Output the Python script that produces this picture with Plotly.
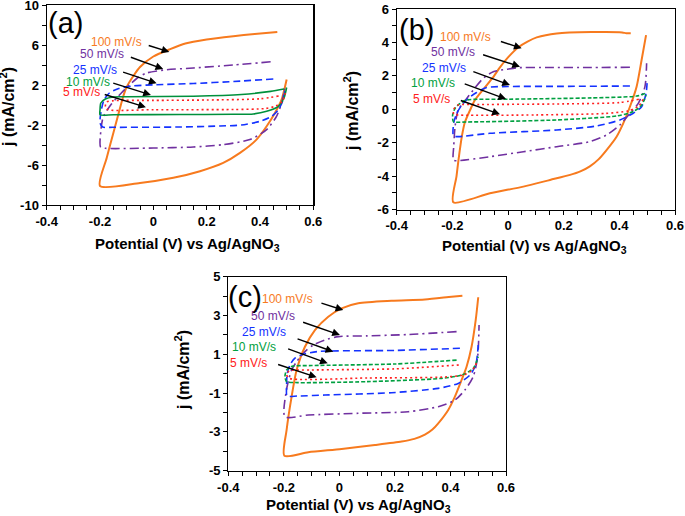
import plotly.graph_objects as go

# ---------------- data ----------------
rates = ["100 mV/s", "50 mV/s", "25 mV/s", "10 mV/s", "5 mV/s"]

# Panel (a)
a100_v = [0.465, 0.38, 0.3, 0.2, 0.12, 0.06, 0.0, -0.05, -0.075, -0.1, -0.1125, -0.125, -0.15, -0.175, -0.2,
          -0.05, 0.075, 0.175, 0.262, 0.325, 0.387, 0.425, 0.456, 0.481, 0.5]
a100_j = [7.3, 7.1, 6.88, 6.55, 6.15, 5.55, 4.85, 3.8, 2.9, 1.8, 0.9, -0.3, -2.8, -5.3, -8.1,
          -7.8, -7.28, -6.62, -5.79, -4.79, -3.46, -2.13, -0.8, 0.53, 2.55]
a50_v = [0.44, 0.3, 0.15, 0.04, -0.025, -0.06, -0.09, -0.12, -0.16, -0.188, -0.197, -0.198, -0.18, 0.0, 0.15, 0.262,
         0.362, 0.425, 0.462, 0.481, 0.494]
a50_j = [4.32, 4.0, 3.7, 3.5, 3.2, 2.7, 2.0, 1.2, 0.0, -1.2, -2.6, -4.2, -4.33, -4.3, -4.2, -3.96,
         -3.46, -2.46, -1.13, 0.2, 1.86]
a25_v = [0.45, 0.3, 0.15, 0.0, -0.08, -0.13, -0.165, -0.185, -0.195, -0.2, -0.19, -0.15, 0.1, 0.25, 0.33,
         0.4, 0.444, 0.469, 0.487, 0.494]
a25_j = [2.6, 2.35, 2.15, 2.02, 1.9, 1.65, 1.2, 0.5, -0.5, -1.8, -2.2, -2.23, -2.2, -2.1, -2.0,
         -1.63, -1.13, -0.47, 0.53, 1.69]
a10_v = [0.49, 0.44, 0.33, 0.15, -0.1, -0.15, -0.18, -0.197, -0.2, -0.2, -0.15, 0.1, 0.3, 0.375, 0.425,
         0.469, 0.49, 0.5]
a10_j = [1.6, 1.36, 1.05, 0.88, 0.82, 0.8, 0.6, 0.2, -0.5, -0.97, -0.97, -0.95, -0.93, -0.9, -0.63,
         -0.13, 0.7, 1.75]
a5_v = [0.47, 0.4, 0.2, 0.0, -0.15, -0.175, -0.18, -0.17, 0.0, 0.3, 0.42, 0.46, 0.485, 0.495]
a5_j = [0.9, 0.62, 0.5, 0.46, 0.43, 0.3, -0.2, -0.47, -0.47, -0.45, -0.35, -0.1, 0.4, 1.2]

# Panel (b)
b100_v = [0.441, 0.425, 0.41, 0.3, 0.175, 0.103, 0.07, 0.037, 0.0, -0.029, -0.05, -0.083, -0.119, -0.135,
          -0.155, -0.166, -0.178, -0.185, -0.1965,
          -0.065, 0.055, 0.151, 0.223, 0.26, 0.294, 0.325, 0.354, 0.39, 0.414, 0.438, 0.462, 0.48, 0.496]
b100_j = [4.55, 4.55, 4.6, 4.62, 4.54, 4.3, 4.05, 3.71, 3.1, 2.51, 2.0, 1.31, 0.55, 0.0,
          -0.78, -1.64, -3.04, -4.0, -5.57,
          -5.03, -4.63, -4.23, -3.93, -3.72, -3.42, -3.0, -2.44, -1.64, -0.84, 0.15, 1.35, 2.95, 4.44]
b50_v = [0.438, 0.3, 0.15, 0.031, -0.005, -0.053, -0.089, -0.125, -0.155, -0.179, -0.19, -0.195, -0.196,
         -0.18, -0.065, 0.055, 0.175, 0.294, 0.354, 0.402, 0.438, 0.468, 0.492, 0.498]
b50_j = [2.51, 2.5, 2.5, 2.48, 2.39, 2.25, 1.85, 1.15, 0.5, -0.04, -1.0, -2.2, -3.04,
         -3.08, -2.84, -2.54, -2.24, -1.94, -1.54, -0.94, -0.24, 0.35, 1.35, 2.75]
b25_v = [0.438, 0.2, 0.0, -0.077, -0.113, -0.143, -0.166, -0.184, -0.195, -0.196, -0.18, -0.065, 0.175,
         0.318, 0.402, 0.45, 0.48, 0.496, 0.5]
b25_j = [1.39, 1.37, 1.36, 1.3, 1.0, 0.65, 0.25, -0.24, -0.8, -1.6, -1.64, -1.44, -1.24,
         -1.0, -0.64, -0.24, 0.15, 0.95, 1.65]
b10_v = [0.492, 0.462, 0.3, 0.0, -0.149, -0.172, -0.19, -0.199, -0.196, -0.149, 0.175, 0.39, 0.45, 0.48, 0.496]
b10_j = [0.95, 0.79, 0.68, 0.6, 0.55, 0.35, 0.06, -0.34, -0.74, -0.76, -0.64, -0.4, -0.14, 0.25, 0.85]
b5_v = [0.47, 0.4, 0.2, -0.1, -0.18, -0.195, -0.195, -0.17, 0.1, 0.35, 0.43, 0.47, 0.49]
b5_j = [0.6, 0.4, 0.32, 0.28, 0.25, 0.0, -0.3, -0.35, -0.34, -0.25, -0.1, 0.2, 0.75]

# Panel (c)
c100_v = [0.443, 0.404, 0.308, 0.188, 0.068, 0.008, -0.04, -0.088, -0.124, -0.154, -0.172, -0.19, -0.198,
          -0.112, 0.008, 0.128, 0.224, 0.27, 0.308, 0.335, 0.356, 0.392, 0.416, 0.44, 0.458, 0.476, 0.491, 0.5]
c100_j = [4.02, 3.97, 3.83, 3.76, 3.63, 3.37, 2.94, 2.25, 1.39, 0.19, -1.18, -2.9, -4.225,
          -4.05, -3.88, -3.68, -3.5, -3.36, -3.14, -2.88, -2.56, -1.87, -1.185, -0.325, 0.36, 1.39, 2.77, 3.94]
c50_v = [0.422, 0.25, 0.1, -0.004, -0.052, -0.094, -0.124, -0.154, -0.172, -0.19, -0.196, -0.112, 0.068,
         0.248, 0.356, 0.416, 0.452, 0.482, 0.498, 0.503]
c50_j = [2.17, 2.02, 1.95, 1.91, 1.74, 1.48, 1.14, 0.62, 0.19, -0.8, -2.22, -2.13, -2.04,
         -1.96, -1.7, -1.36, -0.84, -0.15, 0.88, 2.51]
c25_v = [0.434, 0.2, -0.08, -0.13, -0.16, -0.178, -0.188, -0.19, -0.188, -0.15, -0.052, 0.188, 0.356,
         0.428, 0.47, 0.491, 0.5]
c25_j = [1.31, 1.2, 1.14, 1.0, 0.8, 0.45, 0.0, -0.6, -1.15, -1.15, -1.1, -0.98, -0.755,
         -0.5, -0.07, 0.45, 1.48]
c10_v = [0.422, 0.2, -0.1, -0.17, -0.19, -0.196, -0.19, -0.15, 0.1, 0.368, 0.44, 0.482, 0.5]
c10_j = [0.7, 0.5, 0.42, 0.38, 0.19, -0.15, -0.41, -0.46, -0.41, -0.24, -0.07, 0.27, 0.88]
c5_v = [0.43, 0.2, -0.1, -0.18, -0.19, -0.18, 0.1, 0.38, 0.45, 0.48, 0.495]
c5_j = [0.45, 0.25, 0.19, 0.15, -0.05, -0.24, -0.22, -0.17, -0.05, 0.2, 0.6]

x_tick_labels = ["-0.4", "-0.2", "0", "0.2", "0.4", "0.6"]
ya_tick_labels = ["-10", "-6", "-2", "2", "6", "10"]
yb_tick_labels = ["-6", "-4", "-2", "0", "2", "4", "6"]
yc_tick_labels = ["-5", "-3", "-1", "1", "3", "5"]

# ---------------- styles ----------------
FONT = "Liberation Sans, Arial, sans-serif"
colors = ["#F77A1E", "#7030A0", "#1432FF", "#00A040", "#FF2020"]
dashes = ["solid", "9px,4px,2px,4px", "7px,4px", "4px,2px", "2px,3px"]
widths = [2, 1.6, 1.6, 1.6, 1.6]

W, H = 685, 516
def fx(px):
    return px / W
def fy(py):
    return 1 - py / H

panels = {
    "a": dict(xd=[46.7, 313.3], yd=[5.0, 205.0], yr=[-10, 10], ystep=2, ylab=ya_tick_labels,
              green=("#00903C", "solid"),
              curves=[(a100_v, a100_j), (a50_v, a50_j), (a25_v, a25_j), (a10_v, a10_j), (a5_v, a5_j)]),
    "b": dict(xd=[396.7, 675.0], yd=[9.0, 209.5], yr=[-6, 6], ystep=1, ylab=yb_tick_labels,
              green=None,
              curves=[(b100_v, b100_j), (b50_v, b50_j), (b25_v, b25_j), (b10_v, b10_j), (b5_v, b5_j)]),
    "c": dict(xd=[228.3, 506.0], yd=[276.7, 470.7], yr=[-5, 5], ystep=1, ylab=yc_tick_labels,
              green=None,
              curves=[(c100_v, c100_j), (c50_v, c50_j), (c25_v, c25_j), (c10_v, c10_j), (c5_v, c5_j)]),
}

# label text: (right-end V, j); arrow: tail (V, j) -> head (V, j)
label_specs = {
    "a": [((-0.035, 6.33), (-0.023, 6.0), (0.06, 5.3)),
          ((-0.103, 5.07), (-0.09, 4.83), (0.037, 3.6)),
          ((-0.129, 3.5), (-0.119, 3.33), (0.0125, 2.17)),
          ((-0.156, 2.33), (-0.156, 2.23), (-0.009, 1.0)),
          ((-0.194, 1.27), (-0.188, 1.1), (-0.028, -0.23))],
    "b": [((-0.053, 4.31), (-0.031, 4.085), (0.049, 3.65)),
          ((-0.1125, 3.41), (-0.095, 3.29), (0.043, 2.55)),
          ((-0.143, 2.45), (-0.13, 2.29), (0.007, 1.45)),
          ((-0.182, 1.59), (-0.161, 1.55), (-0.007, 0.61)),
          ((-0.202, 0.6), (-0.175, 0.555), (-0.029, -0.3))],
    "c": [((-0.088, 3.835), (-0.07, 3.66), (0.014, 3.28)),
          ((-0.154, 2.97), (-0.136, 2.68), (0.002, 1.995)),
          ((-0.184, 2.13), (-0.156, 1.825), (-0.022, 1.134)),
          ((-0.22, 1.36), (-0.19, 1.31), (-0.042, 0.536)),
          ((-0.252, 0.536), (-0.226, 0.5), (-0.082, -0.186))],
}
panel_tags = {"a": ("(a)", 46, 23), "b": ("(b)", 397, 30), "c": ("(c)", 226, 297)}
ytitle_pos = {"a": (7, 107), "b": (351, 111), "c": (182, 370)}
xtitle_pos = {"a": (187.5, 245), "b": (534, 247), "c": (358, 505)}

fig = go.Figure()
annotations = []
x_vals = [round(-0.4 + 0.05 * i, 2) for i in range(21)]
x_text = []
for v in x_vals:
    k = round((v + 0.4) / 0.2, 6)
    x_text.append(x_tick_labels[int(round(k))] if abs(k - round(k)) < 1e-6 else "")

for idx, (key, p) in enumerate(panels.items()):
    n = idx + 1
    xref = "x" if n == 1 else f"x{n}"
    yref = "y" if n == 1 else f"y{n}"
    for ci, ((v, j), col, dsh, wd) in enumerate(zip(p["curves"], colors, dashes, widths)):
        if ci == 3 and p["green"] is not None:
            col, dsh = p["green"]
        fig.add_trace(go.Scatter(x=v, y=j, mode="lines", xaxis=xref, yaxis=yref,
                                 line=dict(color=col, dash=dsh, width=wd, shape="spline", smoothing=0.7),
                                 showlegend=False, hoverinfo="skip"))
    y0, y1 = p["yr"]
    yvals = list(range(y0, y1 + 1, p["ystep"]))
    labset = set(p["ylab"])
    ytext = [str(v) if str(v) in labset else "" for v in yvals]
    axis_common = dict(showline=True, mirror=True, linecolor="black", linewidth=1.2,
                       ticks="outside", ticklen=4, tickwidth=1, tickcolor="black",
                       showgrid=False, zeroline=False, automargin=False, ticklabeloverflow="allow",
                       tickfont=dict(family=FONT, size=13, color="black", weight="bold"))
    fig.layout[f"xaxis{'' if n == 1 else n}"] = dict(
        domain=[fx(p["xd"][0]), fx(p["xd"][1])], range=[-0.4, 0.6], anchor=yref,
        tickmode="array", tickvals=x_vals, ticktext=x_text, **axis_common)
    fig.layout[f"yaxis{'' if n == 1 else n}"] = dict(
        domain=[fy(p["yd"][1]), fy(p["yd"][0])], range=[y0, y1], anchor=xref,
        tickmode="array", tickvals=yvals, ticktext=ytext, **axis_common)

    for (lab, tail, head), rate, col in zip(label_specs[key], rates, colors):
        annotations.append(dict(x=lab[0], y=lab[1], xref=xref, yref=yref, text=rate, showarrow=False,
                                xanchor="right", yanchor="middle",
                                font=dict(family=FONT, size=12, color=col)))
        annotations.append(dict(x=head[0], y=head[1], ax=tail[0], ay=tail[1], xref=xref, yref=yref,
                                axref=xref, ayref=yref, text="", showarrow=True,
                                arrowhead=2, arrowsize=1.1, arrowwidth=1.4, arrowcolor="black"))
    tag, tx, ty = panel_tags[key]
    annotations.append(dict(x=fx(tx), y=fy(ty), xref="paper", yref="paper", text=tag, showarrow=False,
                            xanchor="left", yanchor="middle", font=dict(family=FONT, size=29, color="black")))
    yx, yy = ytitle_pos[key]
    annotations.append(dict(x=fx(yx), y=fy(yy), xref="paper", yref="paper",
                            text="<b>j (mA/cm<sup>2</sup>)</b>", textangle=-90, showarrow=False,
                            xanchor="center", yanchor="middle", font=dict(family=FONT, size=16, color="black")))
    xx, xy = xtitle_pos[key]
    annotations.append(dict(x=fx(xx), y=fy(xy), xref="paper", yref="paper",
                            text="<b>Potential (V) vs Ag/AgNO<sub>3</sub></b>", showarrow=False,
                            xanchor="center", yanchor="middle", font=dict(family=FONT, size=15, color="black")))

fig.update_layout(width=W, height=H, margin=dict(l=0, r=0, t=0, b=0),
                  paper_bgcolor="white", plot_bgcolor="white", annotations=annotations,
                  font=dict(family=FONT))
fig.write_html("out.html", config={"displayModeBar": False, "staticPlot": True},
               post_script="document.body.style.margin='0';document.body.style.overflow='hidden';")
